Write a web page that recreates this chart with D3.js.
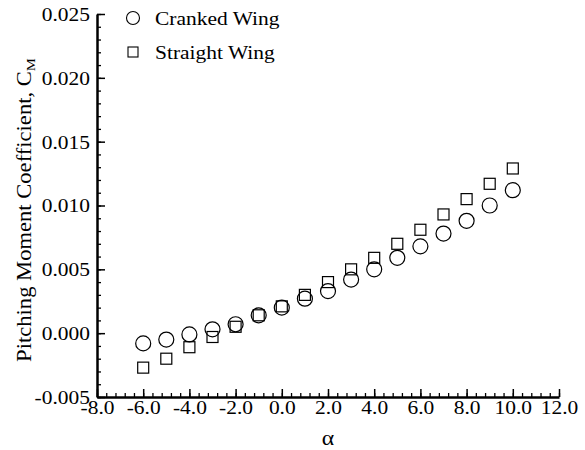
<!DOCTYPE html>
<html><head><meta charset="utf-8">
<script src="https://cdn.jsdelivr.net/npm/d3@7"></script>
<style>body{margin:0;background:#fff}svg{display:block}</style>
</head><body><svg id="c" width="585" height="450"></svg>
<script>
const alpha = [-6,-5,-4,-3,-2,-1,0,1,2,3,4,5,6,7,8,9,10];
const cranked = [-0.0008,-0.0005,-0.0001,0.0003,0.0007,0.0014,0.0020,0.0027,0.0033,0.0042,0.0050,0.0059,0.0068,0.0078,0.0088,0.0100,0.0112];
const straight = [-0.0027,-0.0020,-0.0011,-0.0003,0.0005,0.0014,0.0021,0.0030,0.0040,0.0050,0.0059,0.0070,0.0081,0.0093,0.0105,0.0117,0.0129];
const xTicks = [-8,-6,-4,-2,0,2,4,6,8,10,12];
const yTicks = [-0.005,0,0.005,0.010,0.015,0.020,0.025];
const seriesNames = ["Cranked Wing","Straight Wing"];

const FF = "Liberation Serif";
const svg = d3.select("#c");
const x = d3.scaleLinear().domain([-8,12]).range([97,559]);
const y = d3.scaleLinear().domain([-0.005,0.025]).range([397,14]);
const loc = d3.formatLocale({decimal:".",thousands:",",grouping:[3],currency:["",""],minus:"-"});
const fx = loc.format(".1f"), fy = loc.format(".3f");
const SX = 1.13, FS = 19;

// minor ticks
const xMinor = d3.range(-8,12.001,0.4);
const yMinor = d3.range(-0.005,0.02501,0.001);
svg.append("g").attr("transform","translate(0,397)")
  .call(d3.axisBottom(x).tickValues(xMinor).tickSize(-4).tickFormat(""))
  .call(g=>{g.select(".domain").remove();g.selectAll("line").attr("stroke-width",1.3);});
svg.append("g").attr("transform","translate(97,0)")
  .call(d3.axisLeft(y).tickValues(yMinor).tickSize(-4).tickFormat(""))
  .call(g=>{g.select(".domain").remove();g.selectAll("line").attr("stroke-width",1.3);});

const gx = svg.append("g").attr("transform","translate(0,397)")
  .call(d3.axisBottom(x).tickValues(xTicks).tickSize(-8).tickSizeOuter(0).tickFormat(fx));
gx.select(".domain").attr("stroke-width",2.5);
gx.selectAll("line").attr("stroke-width",1.5);
gx.selectAll("text").attr("y",0).attr("dy",0).style("font-family",FF).style("font-size",FS+"px")
  .attr("fill","#000").attr("transform","translate(0,17) scale("+SX+",1)");

const gy = svg.append("g").attr("transform","translate(97,0)")
  .call(d3.axisLeft(y).tickValues(yTicks).tickSize(-8).tickSizeOuter(0).tickFormat(fy));
gy.select(".domain").attr("stroke-width",2.5);
gy.selectAll("line").attr("stroke-width",1.5);
gy.selectAll("text").attr("x",0).attr("dy","0.34em").style("font-family",FF).style("font-size",FS+"px")
  .attr("fill","#000").attr("transform","translate(-7,0) scale("+SX+",1)");

// data
svg.append("g").selectAll("circle").data(alpha).join("circle")
  .attr("cx",(d)=>x(d)).attr("cy",(d,i)=>y(cranked[i])).attr("r",7.5)
  .attr("fill","none").attr("stroke","#000").attr("stroke-width",1.2);
const s = 11;
svg.append("g").selectAll("rect").data(alpha).join("rect")
  .attr("x",(d)=>x(d)-s/2).attr("y",(d,i)=>y(straight[i])-s/2).attr("width",s).attr("height",s)
  .attr("fill","none").attr("stroke","#000").attr("stroke-width",1.2);

// legend
const lg = svg.append("g");
lg.append("circle").attr("cx",133).attr("cy",18).attr("r",6.5).attr("fill","none").attr("stroke","#000").attr("stroke-width",1.1);
lg.append("rect").attr("x",128).attr("y",47).attr("width",10).attr("height",10).attr("fill","none").attr("stroke","#000").attr("stroke-width",1.1);
lg.selectAll("text").data(seriesNames).join("text")
  .style("font-family",FF).style("font-size",FS+"px")
  .attr("transform",(d,i)=>"translate(155,"+(25+i*34)+") scale("+SX+",1)").text(d=>d);

// axis titles
svg.append("text").style("font-family",FF).style("font-size",(FS+2)+"px").attr("text-anchor","middle")
  .attr("transform","translate(328,445) scale("+SX+",1)").text("α");
const yt = svg.append("text").style("font-family",FF).style("font-size","20px").attr("text-anchor","middle")
  .attr("transform","translate(31,210) rotate(-90) scale("+SX+",1)");
yt.append("tspan").text("Pitching Moment Coefficient, C");
yt.append("tspan").style("font-size","13px").attr("dy",4).text("M");
</script></body></html>
